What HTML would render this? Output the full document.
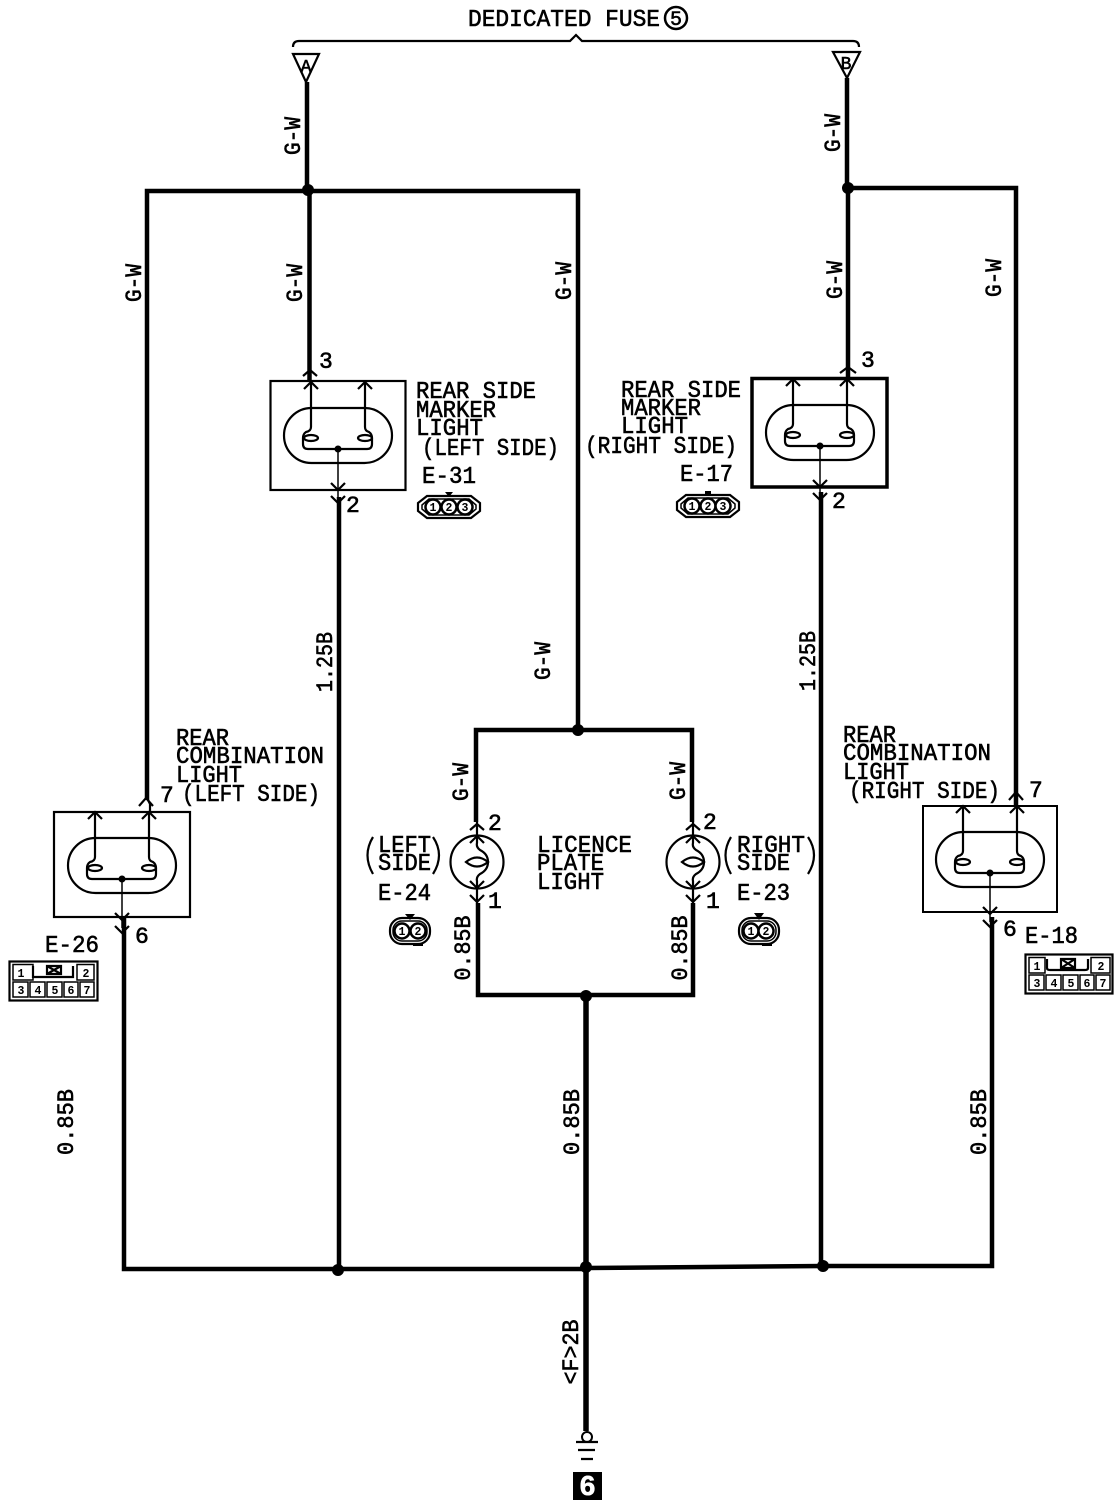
<!DOCTYPE html>
<html><head><meta charset="utf-8"><style>
html,body{margin:0;padding:0;background:#fff}
svg{display:block}
text{font-family:"Liberation Mono",monospace;fill:#000;stroke:#000;stroke-width:.6}
.t{font-size:24px}
.n{font-size:23px}
.r{font-size:23px;text-anchor:middle}
.s{font-size:11.500px;font-weight:bold;text-anchor:middle;stroke:none}
.w{fill:none;stroke:#000;stroke-width:4.5;stroke-linejoin:miter}
.l{fill:none;stroke:#000;stroke-width:2.2}
.h{fill:none;stroke:#000;stroke-width:1.5}
</style></head><body>
<svg width="1120" height="1508" viewBox="0 0 1120 1508" xmlns="http://www.w3.org/2000/svg">
<defs>
<g id="lamp">
<rect x="284" y="408" width="108" height="55" rx="27.5" ry="27.5" class="l"/>
<path class="l" d="M311 381V427Q311 431 306 432Q303 434 303 438V444Q303 449 308 449H367Q372 449 372 444V438Q372 434 369 432Q365 431 365 427V381"/>
<ellipse cx="311" cy="438" rx="7" ry="3" class="l"/>
<ellipse cx="365" cy="438" rx="7" ry="3" class="l"/>
<circle cx="338" cy="449" r="3.5" fill="#000"/>
<path class="h" d="M338 449V498"/>
<path class="l" d="M304 389L311 382L318 389M358 389L365 382L372 389M331 483L338 490L345 483M331 496L338 503L345 496"/>
</g>
<g id="bulb">
<circle cx="0" cy="0" r="26.5" class="l"/>
<path class="l" d="M0 -40V-19Q-1 -15 3 -12Q11 -8 11 0Q11 8 3 12Q-1 15 0 19V41"/>
<path class="l" d="M-11 0Q0 -9 11 0Q0 9 -11 0Z"/>
<path class="l" d="M-7 -19L0 -26L7 -19M-7 19L0 26L7 19M-7 33L0 40L7 33M-7 -32L0 -38L7 -32"/>
</g>
</defs>
<rect width="1120" height="1508" fill="#fff"/>

<!-- Brace -->
<path class="l" d="M293 47Q293 41 299 41H570L576 35L582 41H853Q859 41 859 47"/>
<text x="468" y="26" class="t" textLength="192" lengthAdjust="spacingAndGlyphs">DEDICATED FUSE</text>
<circle cx="676" cy="18" r="11" fill="none" stroke="#000" stroke-width="2.5"/>
<text x="676" y="25" font-size="20" text-anchor="middle">5</text>

<!-- Fuse triangles -->
<path class="l" d="M293 54H319L306 82Z"/>
<text x="306" y="72" font-size="18" text-anchor="middle">A</text>
<path class="l" d="M833 52H860L847 78Z"/>
<text x="846" y="69" font-size="18" text-anchor="middle">B</text>

<!-- Wires -->
<path class="w" d="M307 82V190M309.500 190V381"/>
<path class="w" d="M147 800V191H578V730"/>
<path class="l" d="M147 798L150 804V812"/>
<path class="w" d="M847 78V188M848 188V378"/>
<path class="w" d="M848 188H1016V806"/>
<path class="w" d="M339 497V1270"/>
<path class="w" d="M821 492V1266"/>
<path class="w" d="M124 917V1269H586"/>
<path class="w" d="M992 917V1266H823L586 1268"/>
<path class="w" d="M476 822V730H692V822"/>
<path class="w" d="M478 903V995H693V903"/>
<path fill="none" stroke="#000" stroke-width="5.5" d="M586 995V1431"/>

<!-- Pin chevrons on incoming wires -->
<path class="l" d="M303 376L310 370L317 376M840 373L848 367L856 373M139 806L146 798L153 806M1009 800L1016 792L1023 800"/>

<!-- Junctions -->
<circle cx="308" cy="190" r="6" fill="#000"/>
<circle cx="848" cy="188" r="6" fill="#000"/>
<circle cx="578" cy="730" r="6" fill="#000"/>
<circle cx="586" cy="996" r="6" fill="#000"/>
<circle cx="338" cy="1270" r="6" fill="#000"/>
<circle cx="586" cy="1267" r="6" fill="#000"/>
<circle cx="823" cy="1266" r="6" fill="#000"/>

<!-- Rear side marker left -->
<rect x="270.500" y="381" width="135" height="109" fill="none" stroke="#000" stroke-width="2.2"/>
<use href="#lamp"/>
<text x="319" y="368" class="n">3</text>
<text x="346" y="512" class="n">2</text>
<text x="416" y="398" class="t" textLength="120" lengthAdjust="spacingAndGlyphs">REAR SIDE</text>
<text x="416" y="417" class="t" textLength="80" lengthAdjust="spacingAndGlyphs">MARKER</text>
<text x="416" y="435" class="t" textLength="67" lengthAdjust="spacingAndGlyphs">LIGHT</text>
<text x="422" y="455" class="t" textLength="137" lengthAdjust="spacingAndGlyphs">(LEFT SIDE)</text>
<text x="422" y="483" class="t" textLength="54" lengthAdjust="spacingAndGlyphs">E-31</text>

<!-- Rear side marker right -->
<rect x="752" y="378.500" width="135" height="108.500" fill="none" stroke="#000" stroke-width="3.5"/>
<use href="#lamp" transform="translate(482,-3)"/>
<text x="861" y="367" class="n">3</text>
<text x="832" y="508" class="n">2</text>
<text x="621" y="397" class="t" textLength="120" lengthAdjust="spacingAndGlyphs">REAR SIDE</text>
<text x="621" y="415" class="t" textLength="80" lengthAdjust="spacingAndGlyphs">MARKER</text>
<text x="621" y="433" class="t" textLength="67" lengthAdjust="spacingAndGlyphs">LIGHT</text>
<text x="585" y="453" class="t" textLength="152" lengthAdjust="spacingAndGlyphs">(RIGHT SIDE)</text>
<text x="680" y="481" class="t" textLength="53" lengthAdjust="spacingAndGlyphs">E-17</text>

<!-- Combination left -->
<rect x="54" y="812" width="136" height="105" fill="none" stroke="#000" stroke-width="2.2"/>
<use href="#lamp" transform="translate(-216,430)"/>
<text x="160" y="802" class="n">7</text>
<text x="135" y="943" class="n">6</text>
<text x="176" y="745" class="t" textLength="53" lengthAdjust="spacingAndGlyphs">REAR</text>
<text x="176" y="763" class="t" textLength="148" lengthAdjust="spacingAndGlyphs">COMBINATION</text>
<text x="176" y="782" class="t" textLength="66" lengthAdjust="spacingAndGlyphs">LIGHT</text>
<text x="182" y="801" class="t" textLength="138" lengthAdjust="spacingAndGlyphs">(LEFT SIDE)</text>
<text x="45" y="952" class="t" textLength="54" lengthAdjust="spacingAndGlyphs">E-26</text>

<!-- Combination right -->
<rect x="923" y="806" width="134" height="106" fill="none" stroke="#000" stroke-width="2"/>
<use href="#lamp" transform="translate(652,424)"/>
<text x="1029" y="797" class="n">7</text>
<text x="1003" y="936" class="n">6</text>
<text x="843" y="742" class="t" textLength="53" lengthAdjust="spacingAndGlyphs">REAR</text>
<text x="843" y="760" class="t" textLength="148" lengthAdjust="spacingAndGlyphs">COMBINATION</text>
<text x="843" y="779" class="t" textLength="66" lengthAdjust="spacingAndGlyphs">LIGHT</text>
<text x="849" y="798" class="t" textLength="151" lengthAdjust="spacingAndGlyphs">(RIGHT SIDE)</text>
<text x="1025" y="943" class="t" textLength="53" lengthAdjust="spacingAndGlyphs">E-18</text>

<!-- Licence plate -->
<use href="#bulb" transform="translate(477,862)"/>
<use href="#bulb" transform="translate(693,862)"/>
<text x="488" y="830" class="n">2</text>
<text x="488" y="908" class="n">1</text>
<text x="703" y="829" class="n">2</text>
<text x="706" y="908" class="n">1</text>
<text x="537" y="852" class="t" textLength="95" lengthAdjust="spacingAndGlyphs">LICENCE</text>
<text x="537" y="870" class="t" textLength="67" lengthAdjust="spacingAndGlyphs">PLATE</text>
<text x="537" y="889" class="t" textLength="67" lengthAdjust="spacingAndGlyphs">LIGHT</text>
<text x="378" y="852" class="t" textLength="53" lengthAdjust="spacingAndGlyphs">LEFT</text>
<text x="378" y="870" class="t" textLength="53" lengthAdjust="spacingAndGlyphs">SIDE</text>
<path class="l" d="M373 837Q362 855 373 874M433 837Q445 855 433 874"/>
<text x="737" y="852" class="t" textLength="68" lengthAdjust="spacingAndGlyphs">RIGHT</text>
<text x="737" y="870" class="t" textLength="53" lengthAdjust="spacingAndGlyphs">SIDE</text>
<path class="l" d="M731 837Q720 855 731 874M808 837Q820 855 808 874"/>
<text x="378" y="900" class="t" textLength="53" lengthAdjust="spacingAndGlyphs">E-24</text>
<text x="737" y="900" class="t" textLength="53" lengthAdjust="spacingAndGlyphs">E-23</text>

<!-- 3-pin connectors -->
<g transform="translate(449,507)">
<path class="l" d="M-22 -11H22L31 -4V4L22 11H-22L-31 4V-4Z"/>
<path class="h" d="M-20 -8H20L27 -2V2L20 8H-20L-27 2V-2Z"/>
<path d="M-4 -15H4L0 -10Z"/>
<circle cx="-16" r="7.500" fill="#fff" stroke="#000" stroke-width="2.500"/><circle cx="0" r="7.500" fill="#fff" stroke="#000" stroke-width="2.500"/><circle cx="16" r="7.500" fill="#fff" stroke="#000" stroke-width="2.500"/>
<text x="-16" y="4" class="s">1</text><text x="0" y="4" class="s">2</text><text x="16" y="4" class="s">3</text>
</g>
<g transform="translate(708,506)">
<path class="l" d="M-22 -11H22L31 -4V4L22 11H-22L-31 4V-4Z"/>
<path class="h" d="M-20 -8H20L27 -2V2L20 8H-20L-27 2V-2Z"/>
<path d="M-3 -15H3V-10H-3Z"/>
<circle cx="-16" r="7.500" fill="#fff" stroke="#000" stroke-width="2.500"/><circle cx="0" r="7.500" fill="#fff" stroke="#000" stroke-width="2.500"/><circle cx="15" r="7.500" fill="#fff" stroke="#000" stroke-width="2.500"/>
<text x="-16" y="4" class="s">1</text><text x="0" y="4" class="s">2</text><text x="15" y="4" class="s">3</text>
</g>

<!-- 2-pin connectors -->
<g transform="translate(410,931)">
<rect x="-20" y="-13" width="40" height="26" rx="12" class="l"/>
<rect x="-17" y="-10" width="34" height="20" rx="9" class="h"/>
<path d="M-5 -17H5L0 -11Z"/><path d="M3 12H13V15H3Z"/>
<circle cx="-8" r="7.500" fill="#fff" stroke="#000" stroke-width="2.500"/><circle cx="8" r="7.500" fill="#fff" stroke="#000" stroke-width="2.500"/>
<text x="-8" y="4" class="s">1</text><text x="8" y="4" class="s">2</text>
</g>
<g transform="translate(759,931)">
<rect x="-20" y="-13" width="40" height="26" rx="12" class="l"/>
<rect x="-17" y="-10" width="34" height="20" rx="9" class="h"/>
<path d="M-5 -18H5L0 -11Z"/><path d="M3 12H13V15H3Z"/>
<circle cx="-8" r="7.500" fill="#fff" stroke="#000" stroke-width="2.500"/><circle cx="7" r="7.500" fill="#fff" stroke="#000" stroke-width="2.500"/>
<text x="-8" y="4" class="s">1</text><text x="7" y="4" class="s">2</text>
</g>

<!-- 7-pin grids -->
<g transform="translate(9,961)">
<rect x=".5" y=".5" width="88" height="39" class="l"/>
<path class="h" d="M4 3.500H24V19H4ZM4 21H19V36H4ZM21 21H36V36H21ZM38 21H53V36H38ZM55 21H69V36H55ZM71 21H85V36H71ZM68 3.500H85V19H68Z"/>
<path class="l" d="M24 5V16H64V5"/>
<path class="l" d="M38 5H52V13H38ZM38 5L52 13M52 5L38 13"/>
<text x="12" y="16" class="s">1</text><text x="77" y="16" class="s">2</text>
<text x="12" y="33" class="s">3</text><text x="29" y="33" class="s">4</text><text x="46" y="33" class="s">5</text><text x="62" y="33" class="s">6</text><text x="78" y="33" class="s">7</text>
</g>
<g transform="translate(1025,954)">
<rect x=".5" y=".5" width="87" height="39" class="l"/>
<path class="h" d="M4 3.500H20V19H4ZM4 21H19V36H4ZM21 21H36V36H21ZM38 21H53V36H38ZM55 21H69V36H55ZM71 21H85V36H71ZM66 3.500H85V19H66Z"/>
<path class="l" d="M22 5V14Q22 16 25 16H60Q63 16 63 14V5"/>
<path class="l" d="M36 5H50V14H36ZM36 5L50 14M50 5L36 14"/>
<text x="12" y="16" class="s">1</text><text x="76" y="16" class="s">2</text>
<text x="12" y="33" class="s">3</text><text x="29" y="33" class="s">4</text><text x="46" y="33" class="s">5</text><text x="62" y="33" class="s">6</text><text x="78" y="33" class="s">7</text>
</g>

<!-- Rotated wire labels -->
<text class="r" transform="translate(293,136) rotate(-90)" y="7" textLength="38" lengthAdjust="spacingAndGlyphs">G-W</text>
<text class="r" transform="translate(833,133) rotate(-90)" y="7" textLength="38" lengthAdjust="spacingAndGlyphs">G-W</text>
<text class="r" transform="translate(134,283) rotate(-90)" y="7" textLength="38" lengthAdjust="spacingAndGlyphs">G-W</text>
<text class="r" transform="translate(295,283) rotate(-90)" y="7" textLength="38" lengthAdjust="spacingAndGlyphs">G-W</text>
<text class="r" transform="translate(564,281) rotate(-90)" y="7" textLength="38" lengthAdjust="spacingAndGlyphs">G-W</text>
<text class="r" transform="translate(835,280) rotate(-90)" y="7" textLength="38" lengthAdjust="spacingAndGlyphs">G-W</text>
<text class="r" transform="translate(994,278) rotate(-90)" y="7" textLength="38" lengthAdjust="spacingAndGlyphs">G-W</text>
<text class="r" transform="translate(543,661) rotate(-90)" y="7" textLength="38" lengthAdjust="spacingAndGlyphs">G-W</text>
<text class="r" transform="translate(461,782) rotate(-90)" y="7" textLength="38" lengthAdjust="spacingAndGlyphs">G-W</text>
<text class="r" transform="translate(678,781) rotate(-90)" y="7" textLength="38" lengthAdjust="spacingAndGlyphs">G-W</text>
<text class="r" transform="translate(325,662) rotate(-90)" y="7" textLength="60" lengthAdjust="spacingAndGlyphs">1.25B</text>
<text class="r" transform="translate(808,661) rotate(-90)" y="7" textLength="60" lengthAdjust="spacingAndGlyphs">1.25B</text>
<text class="r" transform="translate(66,1122) rotate(-90)" y="7" textLength="66" lengthAdjust="spacingAndGlyphs">0.85B</text>
<text class="r" transform="translate(572,1122) rotate(-90)" y="7" textLength="66" lengthAdjust="spacingAndGlyphs">0.85B</text>
<text class="r" transform="translate(979,1122) rotate(-90)" y="7" textLength="66" lengthAdjust="spacingAndGlyphs">0.85B</text>
<text class="r" transform="translate(463,948) rotate(-90)" y="7" textLength="65" lengthAdjust="spacingAndGlyphs">0.85B</text>
<text class="r" transform="translate(680,948) rotate(-90)" y="7" textLength="65" lengthAdjust="spacingAndGlyphs">0.85B</text>
<text class="r" transform="translate(571,1352) rotate(-90)" y="7" textLength="65" lengthAdjust="spacingAndGlyphs">&lt;F&gt;2B</text>

<!-- Ground -->
<circle cx="587" cy="1437" r="5" fill="#fff" stroke="#000" stroke-width="2"/>
<path class="l" d="M576 1442H598M578 1450H595M581 1459H593"/>
<rect x="573" y="1472" width="29" height="28" fill="#000"/>
<text x="587.500" y="1495" font-size="28" font-weight="bold" text-anchor="middle" style="fill:#fff;stroke:#fff;font-family:'Liberation Sans',sans-serif">6</text>
</svg>
</body></html>
